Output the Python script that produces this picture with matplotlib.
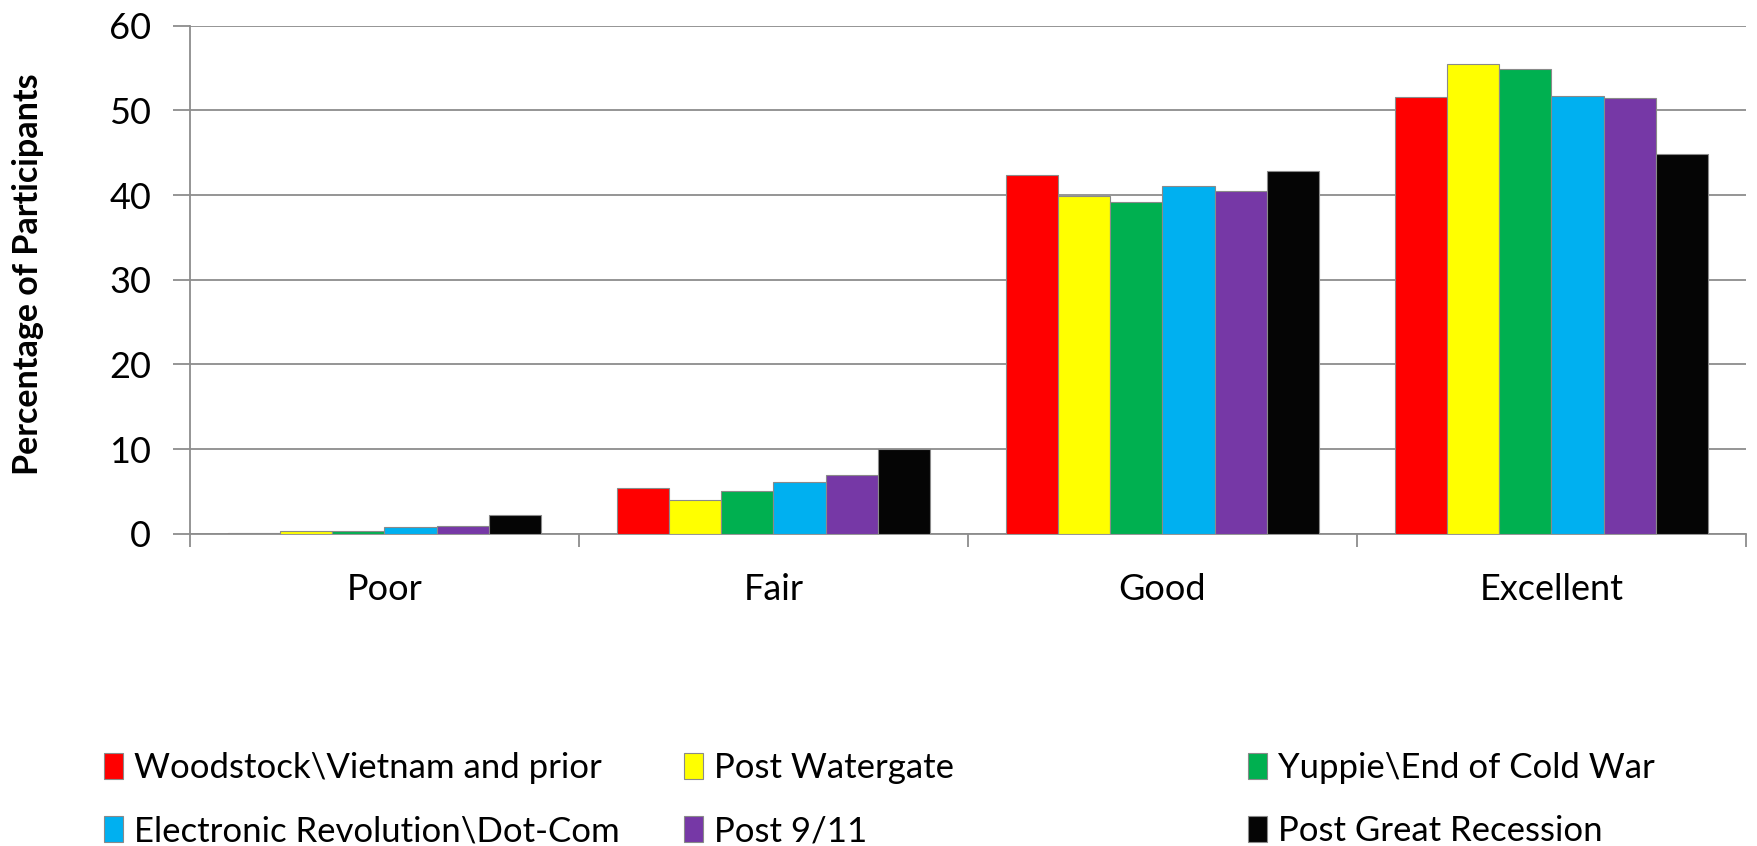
import matplotlib
matplotlib.use("Agg")
import matplotlib.pyplot as plt
import numpy as np
from matplotlib.patches import Patch

plt.rcParams['font.family'] = ['Lato', 'DejaVu Sans']

categories = ["Poor", "Fair", "Good", "Excellent"]
series_names = ["Woodstock\\Vietnam and prior", "Post Watergate", "Yuppie\\End of Cold War",
                "Electronic Revolution\\Dot-Com", "Post 9/11", "Post Great Recession"]
woodstock = [0.1, 5.4, 42.4, 51.6]
watergate = [0.3, 4.0, 39.9, 55.5]
yuppie = [0.3, 5.1, 39.2, 54.9]
dotcom = [0.8, 6.1, 41.1, 51.7]
post911 = [0.9, 6.9, 40.5, 51.5]
recession = [2.2, 10.0, 42.8, 44.8]
series_values = [woodstock, watergate, yuppie, dotcom, post911, recession]
colors = ["#FF0000", "#FFFF00", "#00B050", "#00B0F0", "#7638A6", "#050505"]
yticks = [0, 10, 20, 30, 40, 50, 60]

fig = plt.figure(figsize=(17.58, 8.46), dpi=100)
ax = fig.add_axes([190/1758, 1-533.7/846, (1746-190)/1758, (533.7-25.8)/846])

x = np.arange(len(categories))
bw = 0.134
n = len(series_values)
for i, (vals, c) in enumerate(zip(series_values, colors)):
    off = (i - (n-1)/2) * bw
    ax.bar(x + off, vals, width=bw, color=c, edgecolor="#8a8a8a", linewidth=0.8, zorder=3)

ax.set_xlim(-0.5, len(categories) - 0.5)
ax.set_ylim(0, 60)
ax.set_yticks(yticks)
ax.set_yticklabels([str(t) for t in yticks], fontsize=26)
ax.yaxis.grid(True, color="#8c8c8c", linewidth=1.3, zorder=0)
ax.set_axisbelow(True)
ax.set_xticks(x)
ax.set_xticklabels(categories, fontsize=26)
ax.set_xticks(np.arange(-0.5, len(categories)), minor=True)
ax.tick_params(axis='x', which='major', length=0, pad=28)
ax.tick_params(axis='x', which='minor', length=9, color="#8c8c8c", width=1.3)
ax.tick_params(axis='y', length=12, color="#8c8c8c", width=1.3, pad=16)
for s in ["top", "right"]:
    ax.spines[s].set_visible(False)
for s in ["left", "bottom"]:
    ax.spines[s].set_color("#8c8c8c")
    ax.spines[s].set_linewidth(1.3)

fig.text(28/1758, 1-274/846, "Percentage of Participants", rotation=90,
         fontsize=24.5, fontweight="bold", ha="center", va="center")

handles = [Patch(facecolor=c, edgecolor="#8a8a8a", linewidth=0.8) for c in colors]
col_x = [104/1758, 684/1758, 1248/1758]
for col in range(3):
    hs = [handles[col], handles[col+3]]
    ls = [series_names[col], series_names[col+3]]
    fig.legend(hs, ls, loc="upper left", bbox_to_anchor=(col_x[col], 1-752/846),
               frameon=False, fontsize=25, handlelength=0.55, handleheight=0.8,
               handletextpad=0.3, labelspacing=0.9, borderaxespad=0, borderpad=0)

fig.savefig("out.png", dpi=100, facecolor="white")
